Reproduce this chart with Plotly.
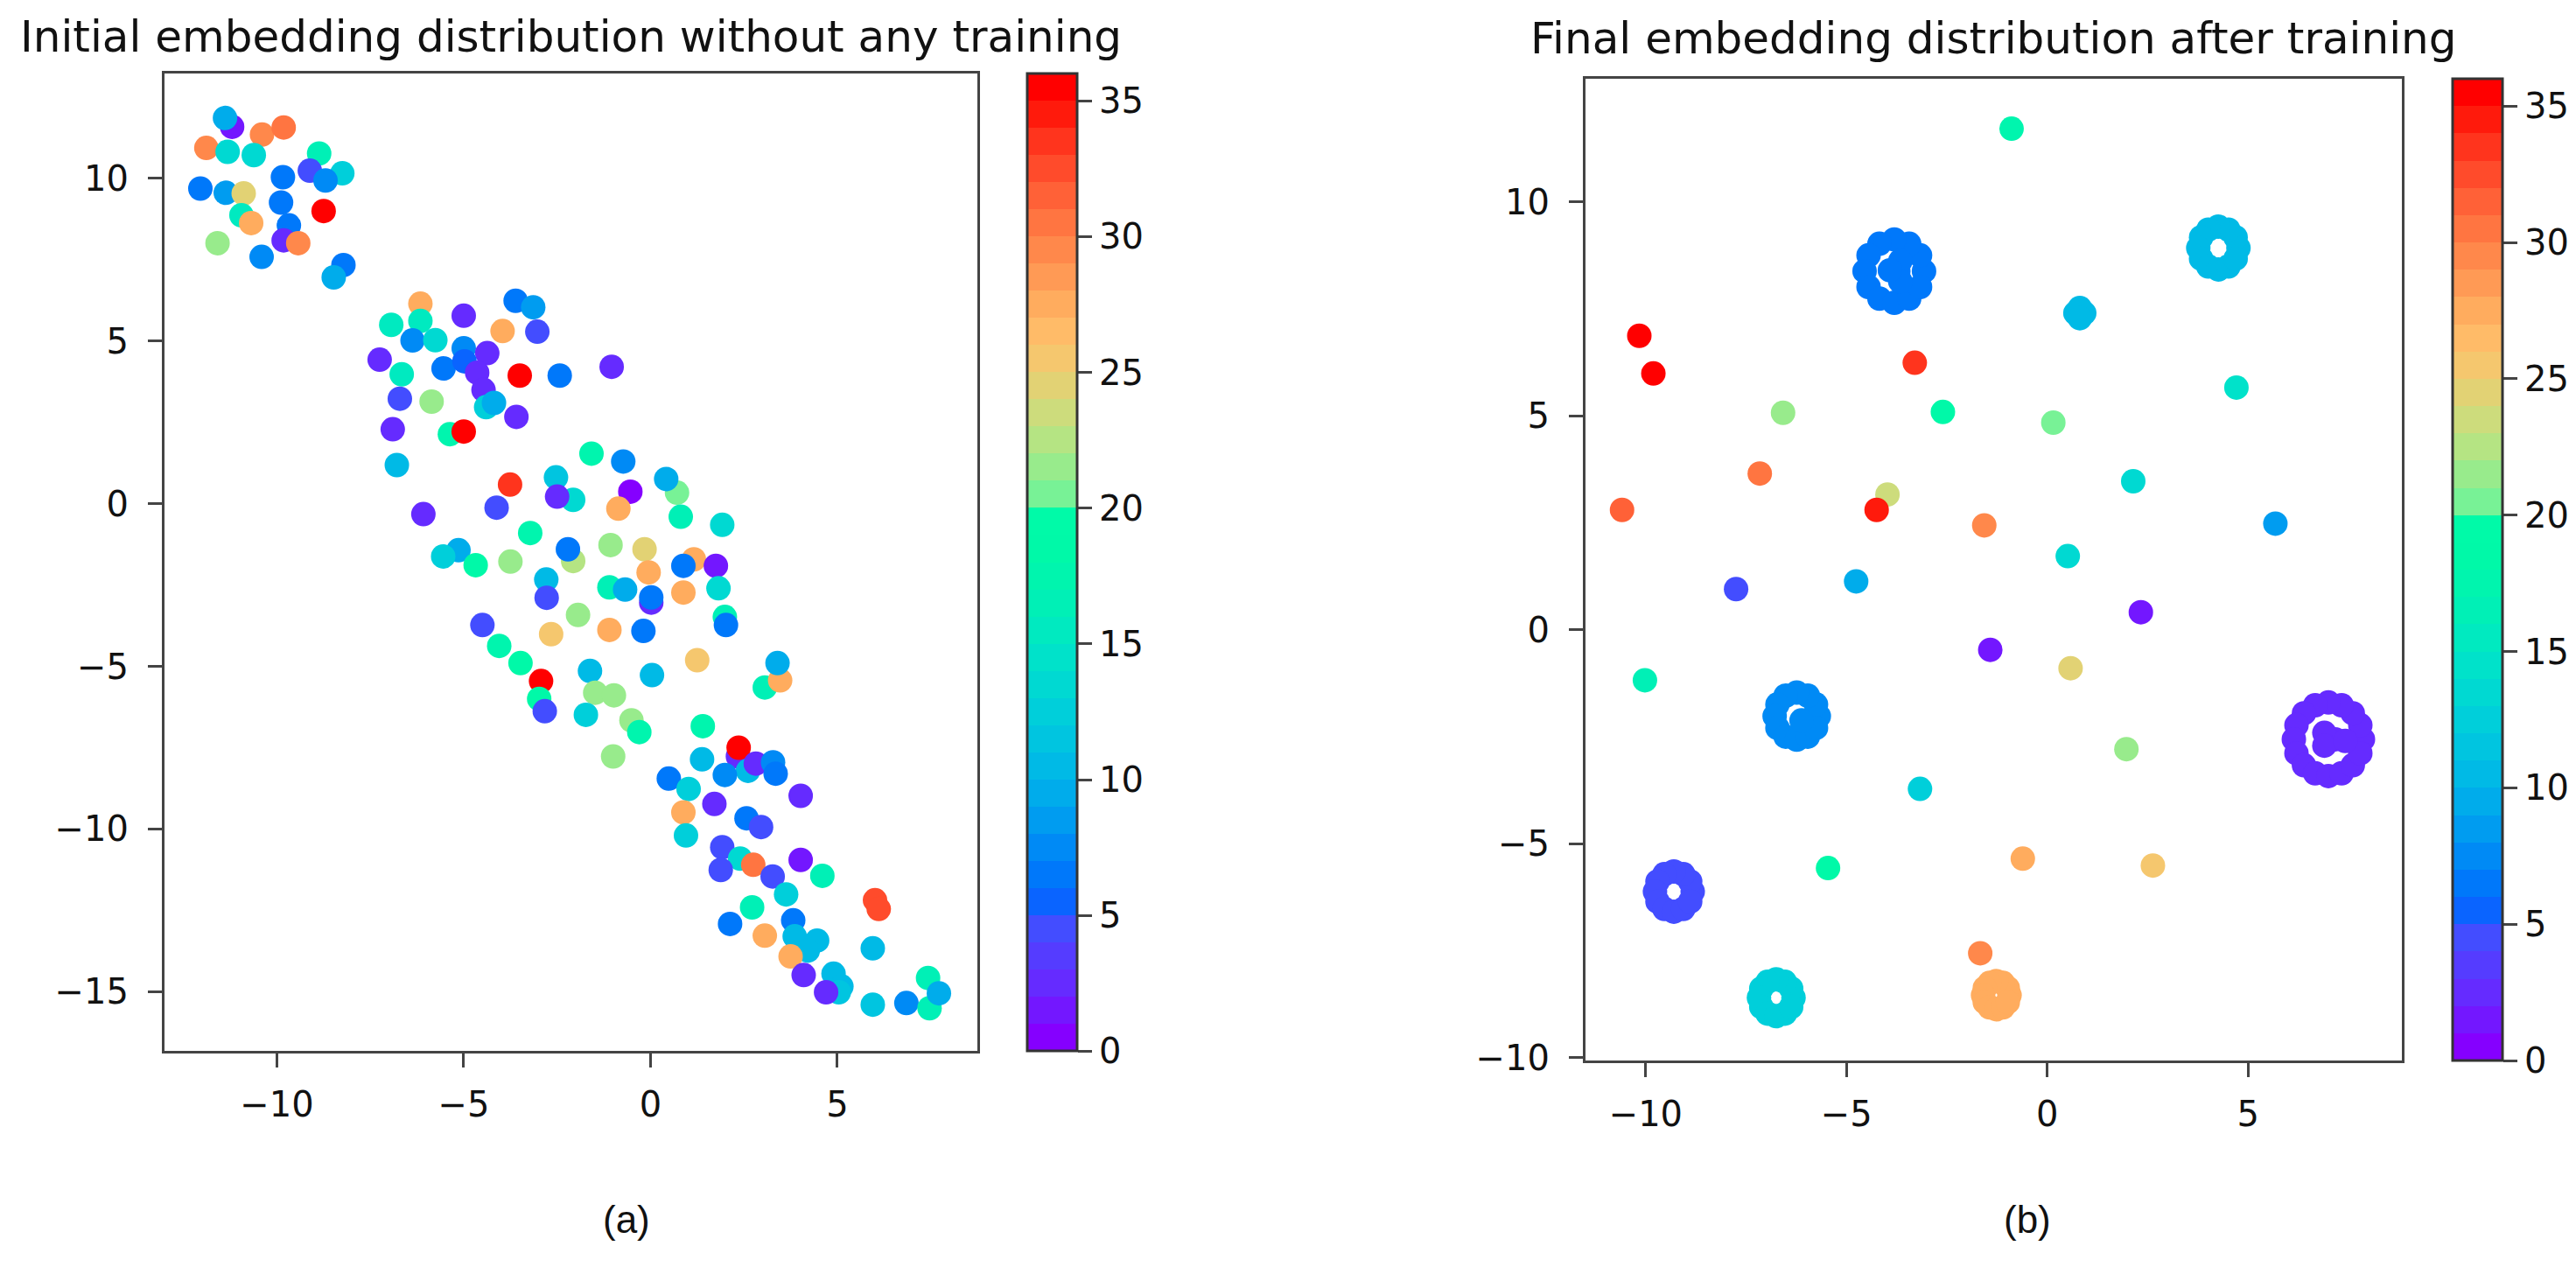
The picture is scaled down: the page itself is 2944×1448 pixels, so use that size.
import plotly.graph_objects as go

W, H = 2944, 1448

# ---------------- Panel (a): initial embedding ----------------
a_x = [-11.20, -11.39, -10.40, -9.82, -11.89, -11.32, -10.62, -8.87, -9.12, -8.25,
       -8.70, -9.84, -12.05, -11.37, -10.89, -9.89, -8.75, -10.95, -10.69, -9.68,
       -9.82, -9.43, -11.59, -10.41, -8.22, -8.48,
       -6.16, -3.61, -3.14, -5.00, -6.94, -6.16, -3.96, -3.03, -6.37, -5.76,
       -5.00, -4.37, -7.25, -5.54, -4.98, -4.64, -3.50, -2.43, -1.04, -6.66,
       -6.71, -5.86, -4.47, -4.40, -4.19, -3.59, -6.90, -5.37, -5.00, -6.79,
       -1.58, -0.73, -3.76, -2.53, -2.07, -2.50, 0.71, 0.42, -0.54, -0.86,
       -4.12, -6.08, 0.81, 1.92, -3.22, -5.14, -5.55, -4.68, -3.75, -2.07,
       -2.21, -1.07, -0.16, 1.16, 0.88, 1.75, -0.05, -2.79, -2.78, -1.10,
       -0.68, 0.02, 0.02, 0.88, 1.82, -4.50, -1.94, -2.66, -1.10, -0.19,
       1.99, 2.02, -4.05, -3.48, 1.25, 3.06, 3.47, 3.40, -2.93, -1.62,
       0.04, -2.98, -2.83, -1.48, -0.98, -1.73, -0.51, -0.30, 1.40, 2.34,
       2.36, -1.00, 1.38, 2.61, 2.82, 3.28, 3.35, 1.99, 0.49, 1.02,
       4.02, 1.71, 0.88, 2.57, 2.96, 0.95, 1.92, 4.02, 2.40, 1.88,
       2.75, 3.27, 4.60, 3.63, 2.72, 6.01, 6.11, 2.13, 3.82, 3.06,
       3.86, 4.46, 4.21, 5.95, 3.75, 4.10, 4.90, 5.11, 5.04, 4.70,
       5.95, 6.85, 7.43, 7.47, 7.72]
a_y = [11.59, 11.86, 11.35, 11.57, 10.94, 10.82, 10.72, 10.77, 10.24, 10.16,
       9.94, 10.04, 9.69, 9.56, 9.54, 9.26, 9.00, 8.87, 8.63, 8.56,
       8.10, 8.01, 8.01, 7.59, 7.34, 6.96,
       6.15, 6.24, 6.04, 5.78, 5.50, 5.62, 5.31, 5.29, 5.02, 5.03,
       4.78, 4.63, 4.43, 4.16, 4.38, 4.03, 3.94, 3.94, 4.21, 3.98,
       3.23, 3.14, 3.50, 2.97, 3.10, 2.67, 2.29, 2.14, 2.22, 1.19,
       1.54, 1.30, 0.59, 0.81, 0.12, 0.22, 0.34, 0.76, 0.37, -0.15,
       -0.12, -0.32, -0.40, -0.65, -0.90, -1.43, -1.62, -1.89, -1.78, -1.76,
       -1.40, -1.27, -1.40, -1.71, -1.91, -1.91, -2.11, -2.33, -2.89, -2.57,
       -2.64, -3.04, -2.88, -2.73, -2.60, -3.73, -3.42, -4.01, -3.88, -3.91,
       -3.48, -3.73, -4.37, -4.90, -4.81, -5.65, -5.43, -4.90, -5.45, -5.14,
       -5.27, -6.00, -6.38, -5.81, -5.89, -6.49, -6.66, -7.02, -6.84, -7.77,
       -7.50, -7.77, -7.86, -8.21, -7.99, -7.95, -8.30, -8.34, -8.45, -8.77,
       -8.98, -9.23, -9.49, -9.67, -9.94, -10.20, -10.56, -10.95, -10.91, -11.26,
       -11.10, -11.46, -11.44, -12.01, -12.41, -12.19, -12.46, -12.92, -12.81, -13.28,
       -13.30, -13.43, -13.74, -13.67, -13.92, -14.49, -14.45, -14.84, -15.02, -15.02,
       -15.40, -15.35, -14.58, -15.51, -15.05]
a_label = [1, 9, 29, 30, 29, 13, 13, 16, 4, 12,
           7, 6, 6, 8, 24, 6, 35, 15, 27, 6,
           2, 29, 21, 7, 6, 9,
           27, 6, 8, 2, 15, 15, 27, 4, 7, 13,
           7, 2, 2, 6, 5, 2, 35, 6, 2, 15,
           4, 21, 2, 12, 9, 2, 2, 17, 35, 10,
           17, 7, 33, 11, 13, 2, 20, 9, 0, 27,
           4, 2, 16, 13, 17, 9, 12, 18, 21, 22,
           6, 21, 24, 27, 6, 1, 27, 10, 4, 16,
           9, 2, 6, 27, 13, 4, 21, 25, 27, 6,
           16, 6, 17, 18, 25, 16, 27, 9, 35, 10,
           10, 18, 4, 21, 21, 12, 21, 17, 17, 2,
           35, 21, 10, 10, 2, 7, 6, 7, 6, 12,
           2, 2, 27, 6, 4, 12, 4, 1, 13, 4,
           30, 4, 16, 12, 16, 32, 32, 6, 6, 27,
           10, 10, 10, 10, 27, 2, 10, 10, 11, 2,
           11, 7, 16, 16, 9]

# ---------------- Panel (b): final embedding ----------------
# isolated samples
b_x = [-0.89, -10.16, -9.81, -3.30, 4.71, -6.58, -2.60, 0.15, -7.16, 2.14,
       -10.59, -3.98, -4.25, -1.57, 5.68, 0.51, -7.75, -4.76, 2.33, -1.42,
       0.58, -10.02, 1.97, -3.17, -5.46, -0.61, 2.63, -1.67]
b_y = [11.71, 6.87, 5.99, 6.24, 5.66, 5.07, 5.09, 4.84, 3.65, 3.47,
       2.80, 3.16, 2.80, 2.44, 2.48, 1.72, 0.95, 1.13, 0.41, -0.47,
       -0.90, -1.18, -2.79, -3.72, -5.57, -5.35, -5.51, -7.56]
b_label = [17, 35, 35, 33, 14, 21, 18, 20, 30, 13,
           31, 23, 34, 29, 8, 13, 4, 9, 1, 1,
           24, 16, 21, 12, 18, 27, 25, 29]

# dense class clusters (ring-shaped point groups)
clA_x = [-3.07, -3.169, -3.44, -3.81, -4.18, -4.451, -4.55, -4.451, -4.18, -3.81, -3.44, -3.169,
         -3.71, -3.66, -3.66, -3.92]
clA_y = [8.38, 8.75, 9.021, 9.12, 9.021, 8.75, 8.38, 8.01, 7.739, 7.64, 7.739, 8.01,
         8.38, 8.62, 8.14, 8.40]
clA_label = 6

clB_x = [4.76, 4.69, 4.51, 4.26, 4.01, 3.83, 3.76, 3.83, 4.01, 4.26, 4.51, 4.69]
clB_y = [8.92, 9.17, 9.35, 9.42, 9.35, 9.17, 8.92, 8.67, 8.49, 8.42, 8.49, 8.67]
clB_label = 10

clC_x = [0.70, 0.92, 0.81, 0.81]
clC_y = [7.40, 7.40, 7.52, 7.28]
clC_label = 10

clD_x = [-5.69, -5.76, -5.965, -6.24, -6.515, -6.72, -6.79, -6.72, -6.515, -6.24, -5.965, -5.76, -6.12]
clD_y = [-2.02, -1.745, -1.54, -1.47, -1.54, -1.745, -2.02, -2.295, -2.50, -2.57, -2.50, -2.295, -2.12]
clD_label = 7

clE_x = [7.86, 7.795, 7.608, 7.329, 7.00, 6.671, 6.392, 6.205, 6.14, 6.205, 6.392, 6.671,
         7.00, 7.329, 7.608, 7.795, 7.17, 6.90, 6.90, 7.42]
clE_y = [-2.56, -2.231, -1.952, -1.765, -1.70, -1.765, -1.952, -2.231, -2.56, -2.889, -3.168, -3.355,
         -3.42, -3.355, -3.168, -2.889, -2.56, -2.41, -2.71, -2.60]
clE_label = 2

clF_x = [-8.83, -8.893, -9.065, -9.30, -9.535, -9.707, -9.77, -9.707, -9.535, -9.30, -9.065, -8.893]
clF_y = [-6.12, -5.885, -5.713, -5.65, -5.713, -5.885, -6.12, -6.355, -6.527, -6.59, -6.527, -6.355]
clF_label = 4

clG_x = [-6.32, -6.378, -6.535, -6.75, -6.965, -7.122, -7.18, -7.122, -6.965, -6.75, -6.535, -6.378]
clG_y = [-8.60, -8.385, -8.228, -8.17, -8.228, -8.385, -8.60, -8.815, -8.972, -9.03, -8.972, -8.815]
clG_label = 12

clH_x = [-0.94, -0.984, -1.105, -1.27, -1.435, -1.556, -1.60, -1.556, -1.435, -1.27, -1.105, -0.984]
clH_y = [-8.54, -8.375, -8.254, -8.21, -8.254, -8.375, -8.54, -8.705, -8.826, -8.87, -8.826, -8.705]
clH_label = 27

cb_ticks = [0, 5, 10, 15, 20, 25, 30, 35]
a_xticks = [-10, -5, 0, 5]
a_yticks = [-15, -10, -5, 0, 5, 10]
b_xticks = [-10, -5, 0, 5]
b_yticks = [-10, -5, 0, 5, 10]

# ---------------- styling ----------------
band_colors = [
    "#8500ff", "#7317ff", "#652bff", "#553cff", "#434dff", "#0a64ff",
    "#0078fa", "#008af5", "#009cf0", "#00aceb", "#00bae6", "#00c5e0",
    "#00cfda", "#00d9d2", "#00e2ca", "#00eac0", "#00f0b6", "#00f5ae",
    "#00f9a8", "#00faa8", "#78f296", "#98eb8c", "#b5e483", "#cddc7c",
    "#e2d274", "#f5c76e", "#ffbb68", "#ffac5e", "#ff9a55", "#ff884b",
    "#ff7541", "#ff6137", "#ff4b2b", "#ff341d", "#ff1a0c", "#ff0000",
]
NB = len(band_colors)
colorscale = []
for k, c in enumerate(band_colors):
    colorscale.append([k / NB, c])
    colorscale.append([(k + 1) / NB, c])

FONT = "DejaVu Sans"
AX = "#444444"
MS = 28

b_all_x = b_x + clA_x + clB_x + clC_x + clD_x + clE_x + clF_x + clG_x + clH_x
b_all_y = b_y + clA_y + clB_y + clC_y + clD_y + clE_y + clF_y + clG_y + clH_y
b_all_label = (b_label + [clA_label] * len(clA_x) + [clB_label] * len(clB_x)
               + [clC_label] * len(clC_x) + [clD_label] * len(clD_x)
               + [clE_label] * len(clE_x) + [clF_label] * len(clF_x)
               + [clG_label] * len(clG_x) + [clH_label] * len(clH_x))


def px_x(p):
    return p / W


def px_y(p):
    return 1 - p / H


# axes pixel boxes (left, top, right, bottom)
A_BOX = (180, 77, 1109, 1210)
B_BOX = (1804, 83, 2737, 1221)
A_CB_X = 1166
B_CB_X = 2795
CB_W = 57


def cbar(box, xpix):
    return dict(
        x=px_x(xpix), xanchor="left", xpad=0, ypad=0,
        y=px_y(box[3]), yanchor="bottom",
        len=(box[3] - box[1]) / H, lenmode="fraction",
        thickness=CB_W, thicknessmode="pixels",
        outlinewidth=3, outlinecolor="#333333",
        tickvals=cb_ticks, ticks="outside", ticklen=16, tickwidth=3,
        tickcolor=AX, tickfont=dict(family=FONT, size=40, color="#111111"),
    )


fig = go.Figure()
fig.add_trace(go.Scatter(
    x=a_x, y=a_y, mode="markers", xaxis="x", yaxis="y",
    marker=dict(size=MS, color=[v + 0.5 for v in a_label], cmin=0, cmax=36,
                colorscale=colorscale, line=dict(width=0), opacity=1,
                showscale=True, colorbar=cbar(A_BOX, A_CB_X)),
    hoverinfo="skip", showlegend=False))
fig.add_trace(go.Scatter(
    x=b_all_x, y=b_all_y, mode="markers", xaxis="x2", yaxis="y2",
    marker=dict(size=MS, color=[v + 0.5 for v in b_all_label], cmin=0, cmax=36,
                colorscale=colorscale, line=dict(width=0), opacity=1,
                showscale=True, colorbar=cbar(B_BOX, B_CB_X)),
    hoverinfo="skip", showlegend=False))


def axis(box, horiz, rng, ticks, anchor):
    d = [px_x(box[0]), px_x(box[2])] if horiz else [px_y(box[3]), px_y(box[1])]
    return dict(domain=d, range=rng, tickvals=ticks, anchor=anchor,
                showgrid=False, zeroline=False, showline=True, mirror=True,
                linecolor=AX, linewidth=3, ticks="outside", ticklen=16,
                tickwidth=3, tickcolor=AX,
                ticklabelstandoff=8 if horiz else 14,
                tickfont=dict(family=FONT, size=40, color="#111111"))


fig.update_layout(
    width=W, height=H, autosize=False,
    margin=dict(l=0, r=0, t=0, b=0),
    paper_bgcolor="white", plot_bgcolor="white",
    xaxis=axis(A_BOX, True, [-13.01, 8.75], a_xticks, "y"),
    yaxis=axis(A_BOX, False, [-16.83, 13.23], a_yticks, "x"),
    xaxis2=axis(B_BOX, True, [-11.50, 8.83], b_xticks, "y2"),
    yaxis2=axis(B_BOX, False, [-10.07, 12.88], b_yticks, "x2"),
    annotations=[
        dict(text="Initial embedding distribution without any training",
             x=px_x((A_BOX[0] + A_BOX[2]) / 2), y=px_y(34), xref="paper", yref="paper",
             xanchor="center", yanchor="middle", showarrow=False,
             font=dict(family=FONT, size=50, color="#111111")),
        dict(text="Final embedding distribution after training",
             x=px_x((B_BOX[0] + B_BOX[2]) / 2), y=px_y(37), xref="paper", yref="paper",
             xanchor="center", yanchor="middle", showarrow=False,
             font=dict(family=FONT, size=50, color="#111111")),
        dict(text="(a)", x=px_x(708), y=px_y(1405), xref="paper", yref="paper",
             xanchor="center", yanchor="middle", showarrow=False,
             font=dict(family="Liberation Sans", size=44, color="#111111")),
        dict(text="(b)", x=px_x(2309), y=px_y(1405), xref="paper", yref="paper",
             xanchor="center", yanchor="middle", showarrow=False,
             font=dict(family="Liberation Sans", size=44, color="#111111")),
    ],
)

fig.write_html("out.html")
